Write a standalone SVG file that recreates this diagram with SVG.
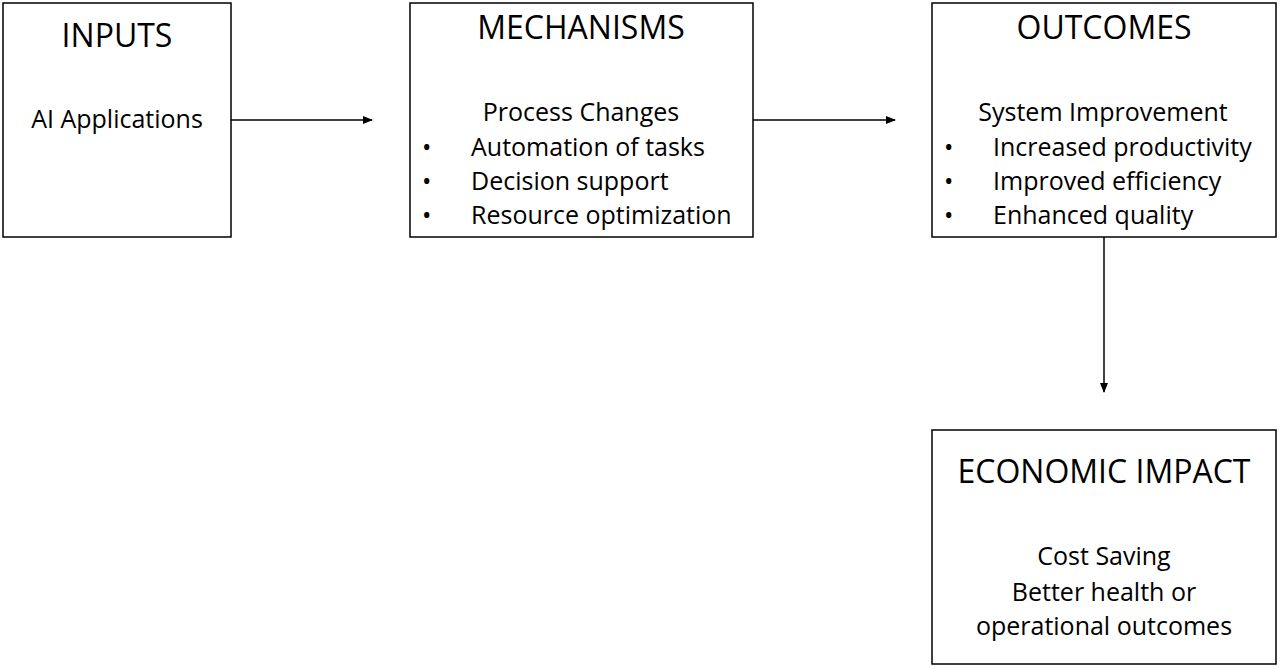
<svg xmlns="http://www.w3.org/2000/svg" width="1280" height="668" viewBox="0 0 1280 668">
<style>
.box{fill:#fff;stroke:#000;stroke-width:1.5}
.t{font-family:"Open Sans",sans-serif;font-size:32px;text-anchor:middle;fill:#000}
.b{font-family:"Open Sans",sans-serif;font-size:25px;fill:#000}
.c{text-anchor:middle}
.ln{stroke:#000;stroke-width:1.5;fill:none}
</style>
<defs><marker id="a" markerWidth="10" markerHeight="10" refX="9" refY="5" orient="auto" markerUnits="userSpaceOnUse"><path d="M0,1 L10,5 L0,9 z" fill="#000"/></marker></defs>
<rect width="1280" height="668" fill="#fff"/>
<g id="inputs"><rect class="box" x="3" y="3" width="228" height="234"/>
<text class="t" x="117" y="47">INPUTS</text>
<text class="b c" x="117" y="128">AI Applications</text></g>
<g id="mechanisms"><rect class="box" x="410" y="3" width="343" height="234"/>
<text class="t" x="581" y="39">MECHANISMS</text>
<text class="b c" x="581" y="121">Process Changes</text>
<text class="b" x="422" y="156">•</text><text class="b" x="471" y="156">Automation of tasks</text>
<text class="b" x="422" y="190">•</text><text class="b" x="471" y="190">Decision support</text>
<text class="b" x="422" y="224">•</text><text class="b" x="471" y="224">Resource optimization</text></g>
<g id="outcomes"><rect class="box" x="932" y="3" width="344" height="234"/>
<text class="t" x="1104" y="39">OUTCOMES</text>
<text class="b c" x="1103" y="121">System Improvement</text>
<text class="b" x="944" y="156">•</text><text class="b" x="993" y="156">Increased productivity</text>
<text class="b" x="944" y="190">•</text><text class="b" x="993" y="190">Improved efficiency</text>
<text class="b" x="944" y="224">•</text><text class="b" x="993" y="224">Enhanced quality</text></g>
<g id="impact"><rect class="box" x="932" y="430" width="344" height="234"/>
<text class="t" x="1104" y="483">ECONOMIC IMPACT</text>
<text class="b c" x="1104" y="565">Cost Saving</text>
<text class="b c" x="1104" y="601">Better health or</text>
<text class="b c" x="1104" y="635">operational outcomes</text></g>
<g id="connectors">
<line class="ln" x1="231" y1="120" x2="372" y2="120" marker-end="url(#a)"/>
<line class="ln" x1="753" y1="120" x2="895" y2="120" marker-end="url(#a)"/>
<line class="ln" x1="1104" y1="237" x2="1104" y2="392" marker-end="url(#a)"/>
</g>
</svg>
